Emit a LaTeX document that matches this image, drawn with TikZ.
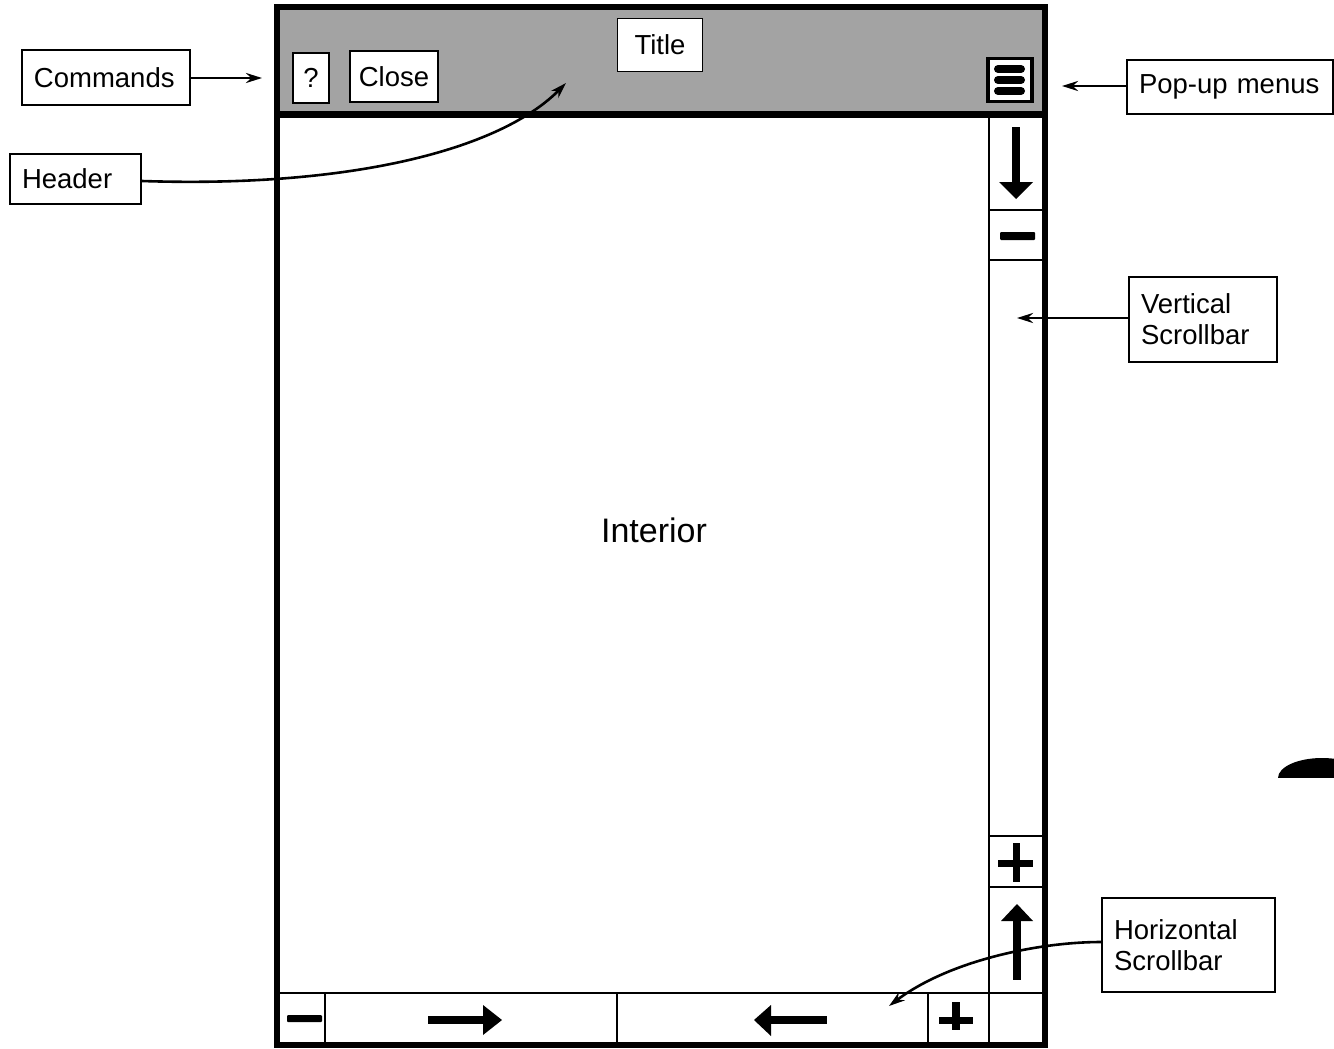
\documentclass[tikz,border=0pt]{standalone}
\usepackage{fontspec}
\setmainfont{Liberation Sans}
\usetikzlibrary{arrows.meta}
\begin{document}
\begin{tikzpicture}[x=1pt,y=-1pt,
  lbl/.style={draw,line width=1.8pt,fill=white,inner xsep=12pt,inner ysep=0pt,
              font=\fontsize{27.5}{31}\selectfont,align=left},
  hbox/.style={draw,line width=1.8pt,fill=white,inner sep=0pt,
              font=\fontsize{27.5}{31}\selectfont,align=center},
  ptr/.style={line width=2.6pt,-{Stealth[length=16pt,width=10pt]}},
  frame/.style={line width=6.5pt},
  cell/.style={line width=1.8pt},
  glyph/.style={fill=black},
]
\useasboundingbox[fill=white] (0,0) rectangle (1334,1049);

% header band
\fill[black!36] (277,7) rectangle (1045,114);

% scrollbar cells
\draw[cell] (989,114) -- (989,1045);
\draw[cell] (277,993) -- (1045,993);
\draw[cell] (989,210) -- (1045,210);
\draw[cell] (989,260) -- (1045,260);
\draw[cell] (989,836) -- (1045,836);
\draw[cell] (989,887) -- (1045,887);
\draw[cell] (325,993) -- (325,1045);
\draw[cell] (617,993) -- (617,1045);
\draw[cell] (928,993) -- (928,1045);

% window frame
\draw[frame] (277,7) rectangle (1045,1045);
\draw[line width=7pt] (277,114) -- (1045,114);

% header items
\node[hbox,minimum width=36pt,minimum height=50pt] (help) at (311,78) {?};
\node[hbox,minimum width=88pt,minimum height=51pt] (close) at (394,76.5) {Close};
\node[hbox,minimum width=85pt,minimum height=53pt] (title) at (660,45) {Title};
\node[draw,line width=3.5pt,fill=white,minimum width=44pt,minimum height=43pt,inner sep=0pt] (menu) at (1010,80) {};
\draw[line width=8pt,line cap=round] (998,69) -- (1021,69);
\draw[line width=8pt,line cap=round] (998,80) -- (1021,80);
\draw[line width=8pt,line cap=round] (998,91) -- (1021,91);

% vertical scrollbar glyphs
\fill[glyph] (1012,127) rectangle (1020,186);
\fill[glyph] (999,182) -- (1033,182) -- (1016,199) -- cycle;
\fill[glyph,rounded corners=1pt] (1000,232) rectangle (1035,240);
\fill[glyph] (998,860) rectangle (1033,867);
\fill[glyph] (1013,843) rectangle (1020,882);
\fill[glyph] (1001,921) -- (1033,921) -- (1017,904) -- cycle;
\fill[glyph] (1013,918) rectangle (1021,980);

% horizontal scrollbar glyphs
\fill[glyph,rounded corners=1pt] (287,1015) rectangle (322,1022);
\fill[glyph] (428,1016) rectangle (486,1024);
\fill[glyph] (483,1005) -- (502,1020) -- (483,1035) -- cycle;
\fill[glyph] (754,1020) -- (771,1005) -- (771,1036) -- cycle;
\fill[glyph] (768,1016) rectangle (827,1024);
\fill[glyph] (939,1017) rectangle (973,1024);
\fill[glyph] (952,1002) rectangle (960,1030);

% interior label
\node[font=\fontsize{34}{40}\selectfont] (interior) at (654,530) {Interior};

% callout labels
\node[lbl,text width=144pt,minimum height=55pt] (cmd) at (106,77.5) {Commands};
\node[lbl,text width=107pt,minimum height=50pt] (hdr) at (75.5,179) {Header};
\node[lbl,text width=182pt,minimum height=54pt] (pop) at (1230,87) {Pop-up menus};
\node[lbl,text width=124pt,minimum height=85pt] (vsb) at (1203,319.5) {Vertical\\Scrollbar};
\node[lbl,text width=149pt,minimum height=94pt] (hsb) at (1188.5,945) {Horizontal\\Scrollbar};

% callout targets
\coordinate (cmdtip) at (262,78);
\coordinate (hdrtip) at (566,83);
\coordinate (poptip) at (1062,86);
\coordinate (vsbtip) at (1017,318);
\coordinate (hsbtip) at (889,1006);

\draw[ptr] (cmd.east |- cmdtip) -- (cmdtip);
\draw[ptr] (hdr.east |- 0,181) .. controls (350,188) and (500,150) .. (hdrtip);
\draw[ptr] (pop.west |- poptip) -- (poptip);
\draw[ptr] (vsb.west |- vsbtip) -- (vsbtip);
\draw[ptr] (hsb.west |- 0,942) .. controls (1040,942) and (950,960) .. (hsbtip);

% scan blot at right edge
\begin{scope}
\clip (1260,740) rectangle (1334,777);
\fill (1322,778) ellipse [x radius=44, y radius=20];
\end{scope}
\end{tikzpicture}
\end{document}
